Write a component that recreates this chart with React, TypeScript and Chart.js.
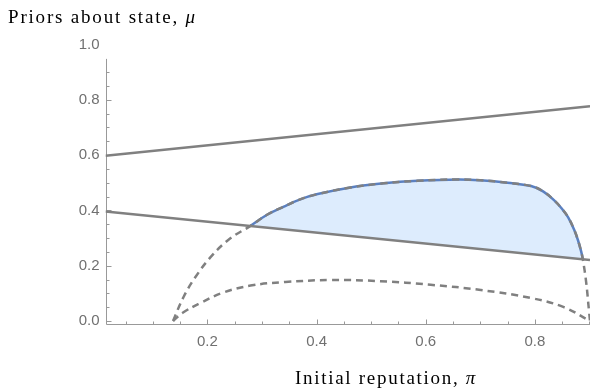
import React, { useEffect, useRef } from "react";
import { Chart, registerables } from "chart.js";

Chart.register(...registerables);

// ---- Data ----
// Upper hump curve (dashed gray where outside the region, blue boundary inside)
const piUpper = [0.137, 0.156, 0.178, 0.209, 0.242, 0.279, 0.31, 0.339, 0.37, 0.402, 0.462, 0.523, 0.585, 0.66, 0.70, 0.75, 0.793, 0.815, 0.835, 0.85, 0.861, 0.872, 0.879, 0.885, 0.888, 0.894, 0.899, 0.901];
const muUpper = [0.0, 0.086, 0.159, 0.238, 0.299, 0.344, 0.385, 0.413, 0.44, 0.459, 0.483, 0.498, 0.507, 0.512, 0.509, 0.50, 0.488, 0.469, 0.437, 0.405, 0.375, 0.33, 0.292, 0.25, 0.222, 0.14, 0.04, 0.0];

// Lower hump curve (dashed)
const piLower = [0.137, 0.154, 0.187, 0.229, 0.279, 0.343, 0.426, 0.517, 0.609, 0.701, 0.793, 0.853, 0.901];
const muLower = [0.0, 0.029, 0.065, 0.103, 0.128, 0.141, 0.148, 0.144, 0.131, 0.112, 0.083, 0.05, 0.0];

// Straight lines
const piLines = [0.0132, 0.901];
const muTopLine = [0.598, 0.777];
const muBottomLine = [0.396, 0.221];

// Shaded region spans this part of the upper curve (closed by the bottom line)
const piShadeStart = 0.279;
const piShadeEnd = 0.888;

// Axes / ticks
const xRange = [0.0132, 0.901];
const yRange = [-0.0145, 1.0];
const yAxisTop = 0.948;
const xTickLabels = [0.2, 0.4, 0.6, 0.8];
const yTickLabels = [0.0, 0.2, 0.4, 0.6, 0.8, 1.0];
const xMinorTicks = [0.05, 0.1, 0.15, 0.25, 0.3, 0.35, 0.45, 0.5, 0.55, 0.65, 0.7, 0.75, 0.85, 0.9];
const yMinorTicks = [0.05, 0.1, 0.15, 0.25, 0.3, 0.35, 0.45, 0.5, 0.55, 0.65, 0.7, 0.75, 0.85, 0.9];
const xTitle = "Initial reputation, ";
const xTitleSymbol = "π";
const yTitle = "Priors about state, ";
const yTitleSymbol = "μ";

const toPoints = (xs: number[], ys: number[]) => xs.map((x, i) => ({ x, y: ys[i] }));

const GRAY = "#808080";
const AXIS = "#999999";
const TICK_TEXT = "#707070";

function drawTitle(ctx: CanvasRenderingContext2D, text: string, sym: string, left: number, baseline: number, targetWidth: number) {
  ctx.save();
  ctx.fillStyle = "#000";
  ctx.textBaseline = "alphabetic";
  ctx.textAlign = "left";
  const size = 19;
  ctx.font = `${size}px "Liberation Serif"`;
  const w1 = ctx.measureText(text).width;
  ctx.font = `italic ${size}px "Liberation Serif"`;
  const w2 = ctx.measureText(sym).width;
  const n = text.length + sym.length;
  const ls = Math.max(0, (targetWidth - w1 - w2) / n);
  (ctx as any).letterSpacing = `${ls.toFixed(2)}px`;
  ctx.font = `${size}px "Liberation Serif"`;
  ctx.fillText(text, left, baseline);
  const wA = ctx.measureText(text).width;
  ctx.font = `italic ${size}px "Liberation Serif"`;
  ctx.fillText(sym, left + wA, baseline);
  ctx.restore();
}

const mmaAxes = {
  id: "mmaAxes",
  beforeDatasetsDraw(chart: any) {
    const { ctx, chartArea } = chart;
    const x = chart.scales.x;
    const y = chart.scales.y;
    const x0 = Math.round(chartArea.left) + 0.5;
    const yb = Math.round(chartArea.bottom) - 0.5;
    ctx.save();
    ctx.strokeStyle = AXIS;
    ctx.lineWidth = 1;
    ctx.beginPath();
    ctx.moveTo(x0, yb);
    ctx.lineTo(x0, y.getPixelForValue(yAxisTop));
    ctx.moveTo(x0, yb);
    ctx.lineTo(chartArea.right, yb);
    yTickLabels.forEach((v) => {
      if (v > yAxisTop) return;
      const p = Math.round(y.getPixelForValue(v)) + 0.5;
      ctx.moveTo(x0, p);
      ctx.lineTo(x0 + 5, p);
    });
    yMinorTicks.forEach((v) => {
      if (v > yAxisTop) return;
      const p = Math.round(y.getPixelForValue(v)) + 0.5;
      ctx.moveTo(x0, p);
      ctx.lineTo(x0 + 3, p);
    });
    xTickLabels.forEach((v) => {
      const p = Math.round(x.getPixelForValue(v)) + 0.5;
      ctx.moveTo(p, yb);
      ctx.lineTo(p, yb - 5);
    });
    xMinorTicks.forEach((v) => {
      const p = Math.round(x.getPixelForValue(v)) + 0.5;
      ctx.moveTo(p, yb);
      ctx.lineTo(p, yb - 3);
    });
    ctx.stroke();
    ctx.restore();
  },
  afterDraw(chart: any) {
    const { ctx } = chart;
    drawTitle(ctx, yTitle, yTitleSymbol, 8, 22.5, 189);
    drawTitle(ctx, xTitle, xTitleSymbol, 295, 384, 182);
  },
};

export default function App() {
  const ref = useRef<HTMLCanvasElement | null>(null);

  useEffect(() => {
    if (!ref.current) return;
    const upper = toPoints(piUpper, muUpper);
    const shade = upper.filter((p) => p.x >= piShadeStart - 1e-9 && p.x <= piShadeEnd + 1e-9);

    const chart = new Chart(ref.current, {
      type: "line",
      data: {
        datasets: [
          {
            label: "lower hump",
            data: toPoints(piLower, muLower),
            borderColor: GRAY,
            borderWidth: 2.5,
            borderDash: [7, 5],
            pointRadius: 0,
            fill: false,
            tension: 0.4,
            order: 1,
          },
          {
            label: "upper hump",
            data: upper,
            borderColor: GRAY,
            borderWidth: 2.5,
            borderDash: [7, 5],
            pointRadius: 0,
            fill: false,
            tension: 0.4,
            order: 2,
          },
          {
            label: "top line",
            data: toPoints(piLines, muTopLine),
            borderColor: GRAY,
            borderWidth: 2.5,
            pointRadius: 0,
            fill: false,
            order: 3,
          },
          {
            label: "bottom line",
            data: toPoints(piLines, muBottomLine),
            borderColor: GRAY,
            borderWidth: 2.5,
            pointRadius: 0,
            fill: false,
            order: 4,
          },
          {
            label: "region",
            data: shade,
            borderColor: "#5b80c0",
            backgroundColor: "#ddecfd",
            borderWidth: 2.5,
            pointRadius: 0,
            fill: "shape",
            tension: 0.4,
            order: 5,
          },
        ],
      },
      options: {
        responsive: false,
        animation: false,
        devicePixelRatio: 1,
        layout: { padding: { top: 44.5, right: 1, left: 0, bottom: 0 } },
        plugins: {
          legend: { display: false },
          tooltip: { enabled: false },
          title: { display: false },
        },
        scales: {
          x: {
            type: "linear",
            min: xRange[0],
            max: xRange[1],
            border: { display: false },
            grid: { display: false, drawTicks: false },
            afterBuildTicks: (s: any) => {
              s.ticks = xTickLabels.map((v) => ({ value: v }));
            },
            afterFit: (s: any) => {
              s.height = 67;
            },
            ticks: {
              callback: (v: any) => Number(v).toFixed(1),
              font: { family: "Liberation Sans", size: 15 },
              color: TICK_TEXT,
              padding: 8,
              maxRotation: 0,
              autoSkip: false,
            },
          },
          y: {
            type: "linear",
            min: yRange[0],
            max: yRange[1],
            border: { display: false },
            grid: { display: false, drawTicks: false },
            afterBuildTicks: (s: any) => {
              s.ticks = yTickLabels.map((v) => ({ value: v }));
            },
            afterFit: (s: any) => {
              s.width = 105.5;
            },
            ticks: {
              callback: (v: any) => Number(v).toFixed(1),
              font: { family: "Liberation Sans", size: 15 },
              color: TICK_TEXT,
              padding: 6,
              autoSkip: false,
            },
          },
        },
      },
      plugins: [mmaAxes],
    } as any);

    return () => chart.destroy();
  }, []);

  return (
    <div style={{ position: "absolute", left: 0, top: 0, width: 591, height: 392, background: "#fff" }}>
      <canvas ref={ref} width={591} height={392} style={{ display: "block" }} />
    </div>
  );
}
